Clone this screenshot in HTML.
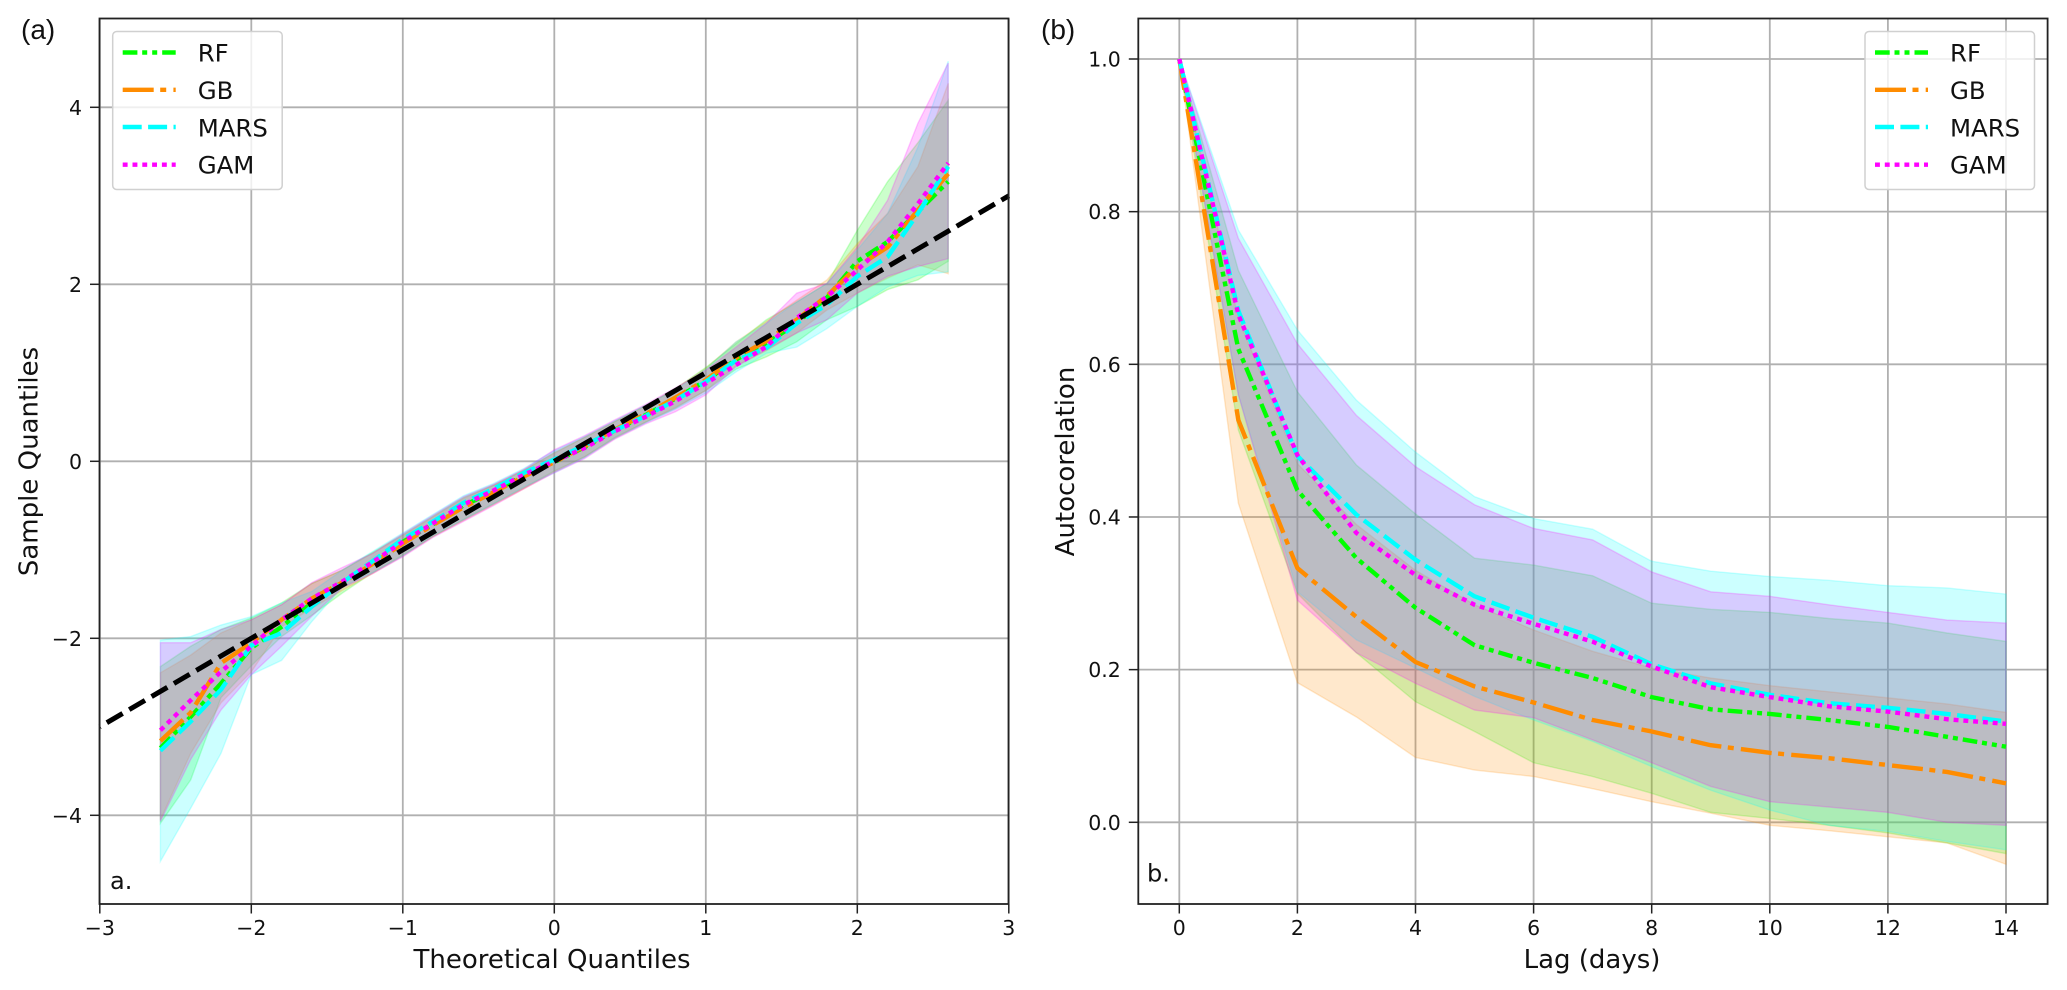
<!DOCTYPE html>
<html lang="en">
<head>
<meta charset="utf-8">
<title>QQ and autocorrelation panels</title>
<style>
html,body{margin:0;padding:0;background:#fff;}
svg{display:block;}
text{font-family:"DejaVu Sans","Liberation Sans",sans-serif;fill:#111;}
</style>
</head>
<body>
<svg id="fig" xmlns="http://www.w3.org/2000/svg" width="2067" height="990" viewBox="0 0 2067 990">
  <rect x="0" y="0" width="2067" height="990" fill="#fff"/>
  <text x="21" y="39" style="font-family:'Liberation Sans',sans-serif;font-size:28px">(a)</text>
  <text x="1041" y="39" style="font-family:'Liberation Sans',sans-serif;font-size:28px">(b)</text>
  <g id="panelA"></g>
  <g id="panelB"></g>
</svg>
<script>
// ---------- Panel (a): QQ plot data ----------
const qqTheoretical = [-2.6,-2.4,-2.2,-2,-1.8,-1.6,-1.4,-1.2,-1,-0.8,-0.6,-0.4,-0.2,0,0.2,0.4,0.6,0.8,1,1.2,1.4,1.6,1.8,2,2.2,2.4,2.6];
const qqRF   = [-3.24,-2.886,-2.51,-2.11,-1.87,-1.6,-1.37,-1.15,-0.91,-0.71,-0.5,-0.34,-0.16,-0.01,0.16,0.35,0.52,0.71,0.91,1.15,1.33,1.56,1.85,2.26,2.48,2.82,3.16];
const qqGB   = [-3.16,-2.84,-2.28,-2.05,-1.79,-1.55,-1.37,-1.16,-0.93,-0.72,-0.52,-0.35,-0.17,-0.01,0.17,0.36,0.53,0.72,0.92,1.17,1.36,1.6,1.87,2.2,2.42,2.84,3.25];
const qqMARS = [-3.27,-2.94,-2.58,-2.08,-1.94,-1.64,-1.37,-1.13,-0.88,-0.68,-0.47,-0.31,-0.13,0.02,0.18,0.35,0.51,0.69,0.9,1.14,1.28,1.56,1.77,2.09,2.31,2.8,3.33];
const qqGAM  = [-3.04,-2.7,-2.377,-2.09,-1.79,-1.55,-1.36,-1.14,-0.91,-0.7,-0.49,-0.33,-0.15,0,0.15,0.34,0.5,0.68,0.88,1.09,1.295,1.62,1.86,2.16,2.48,2.91,3.37];
const qqRFLow    = [-4.09,-3.6,-2.67,-2.31,-1.98,-1.74,-1.49,-1.26,-1.06,-0.85,-0.66,-0.48,-0.3,-0.11,0.05,0.27,0.44,0.6,0.8,1.04,1.18,1.35,1.6,1.75,1.94,2.05,2.26];
const qqRFHigh   = [-2.32,-2.09,-1.9,-1.77,-1.6,-1.38,-1.23,-1.03,-0.83,-0.62,-0.41,-0.27,-0.1,0.1,0.27,0.45,0.63,0.82,1.06,1.33,1.6,1.8,2.01,2.61,3.16,3.6,4.08];
const qqGBLow    = [-4.05,-3.3,-2.73,-2.38,-1.87,-1.66,-1.46,-1.27,-1.07,-0.85,-0.67,-0.49,-0.31,-0.12,0.05,0.26,0.44,0.61,0.8,1.08,1.25,1.45,1.71,1.9,2.07,2.22,2.12];
const qqGBHigh   = [-2.39,-2.19,-1.94,-1.79,-1.62,-1.38,-1.23,-1.04,-0.84,-0.63,-0.42,-0.27,-0.1,0.09,0.27,0.45,0.62,0.82,1.05,1.35,1.58,1.82,2.05,2.46,2.8,3.33,4.27];
const qqMARSLow  = [-4.52,-3.92,-3.3,-2.41,-2.25,-1.81,-1.42,-1.26,-1.07,-0.84,-0.66,-0.48,-0.29,-0.13,0.04,0.26,0.43,0.59,0.77,1.01,1.22,1.29,1.5,1.75,1.97,2.1,2.14];
const qqMARSHigh = [-2.02,-1.98,-1.85,-1.755,-1.6,-1.47,-1.23,-1.02,-0.81,-0.6,-0.39,-0.25,-0.08,0.12,0.28,0.46,0.63,0.81,1.04,1.35,1.56,1.8,2.01,2.39,2.8,3.55,4.52];
const qqGAMLow   = [-4.07,-3.37,-2.81,-2.41,-2.09,-1.75,-1.43,-1.27,-1.08,-0.86,-0.68,-0.5,-0.31,-0.13,0.03,0.25,0.42,0.56,0.75,1.07,1.26,1.45,1.6,1.9,2.09,2.2,2.29];
const qqGAMHigh  = [-2.05,-2.05,-1.9,-1.79,-1.62,-1.37,-1.2,-1.04,-0.82,-0.61,-0.4,-0.26,-0.09,0.13,0.29,0.47,0.64,0.83,1.03,1.29,1.56,1.9,2.01,2.42,2.95,3.82,4.5];
const qqRefX = [-3, 3];
const qqRefY = [-3, 3];
const qqXTickValues = [-3,-2,-1,0,1,2,3];
const qqXTickLabels = ["\u22123","\u22122","\u22121","0","1","2","3"];
const qqYTickValues = [-4,-2,0,2,4];
const qqYTickLabels = ["\u22124","\u22122","0","2","4"];

// ---------- Panel (b): autocorrelation data ----------
const lagDays = [0,1,2,3,4,5,6,7,8,9,10,11,12,13,14];
const acfRF   = [1,0.62,0.435,0.346,0.281,0.232,0.209,0.189,0.164,0.148,0.142,0.134,0.125,0.112,0.099];
const acfGB   = [1,0.527,0.333,0.269,0.21,0.178,0.157,0.134,0.119,0.101,0.091,0.084,0.075,0.066,0.051];
const acfMARS = [1,0.67,0.48,0.403,0.344,0.296,0.268,0.243,0.207,0.182,0.167,0.156,0.15,0.142,0.132];
const acfGAM  = [1,0.665,0.481,0.379,0.324,0.285,0.26,0.2366,0.204,0.177,0.164,0.152,0.145,0.135,0.129];
const acfRFLow    = [1,0.514,0.3,0.222,0.158,0.119,0.078,0.06,0.038,0.013,0.005,-0.004,-0.014,-0.027,-0.041];
const acfRFHigh   = [1,0.723,0.564,0.468,0.404,0.346,0.337,0.323,0.287,0.279,0.275,0.267,0.261,0.248,0.237];
const acfGBLow    = [1,0.418,0.183,0.138,0.085,0.0685,0.06,0.044,0.027,0.012,-0.004,-0.011,-0.019,-0.027,-0.055];
const acfGBHigh   = [1,0.66,0.47,0.39,0.33,0.285,0.252,0.224,0.202,0.189,0.179,0.171,0.163,0.155,0.144];
const acfMARSLow  = [1,0.56,0.302,0.239,0.202,0.165,0.134,0.106,0.073,0.042,0.016,-0.004,-0.012,-0.025,-0.036];
const acfMARSHigh = [1,0.776,0.645,0.553,0.485,0.4266,0.398,0.384,0.342,0.329,0.322,0.317,0.31,0.307,0.299];
const acfGAMLow   = [1,0.56,0.291,0.222,0.182,0.147,0.137,0.108,0.078,0.047,0.027,0.02,0.013,0,-0.004];
const acfGAMHigh  = [1,0.765,0.627,0.533,0.466,0.416,0.385,0.37,0.328,0.302,0.296,0.285,0.275,0.265,0.261];
const acfXTickValues = [0,2,4,6,8,10,12,14];
const acfXTickLabels = ["0","2","4","6","8","10","12","14"];
const acfYTickValues = [0,0.2,0.4,0.6,0.8,1];
const acfYTickLabels = ["0.0","0.2","0.4","0.6","0.8","1.0"];

const legendLabels = ["RF","GB","MARS","GAM"];

// ---------- Scales ----------
const NS = "http://www.w3.org/2000/svg";
const aBox = {l:99.5, r:1008.5, t:18.5, b:904};
const bBox = {l:1138.3, r:2047.6, t:18.5, b:904};
function qqX(v){ return 554.3 + 151.5 * v; }
function qqY(v){ return 461.3 - 88.5 * v; }
function acfX(v){ return 1179.3 + 59.05 * v; }
function acfY(v){ return 822.3 - 763.3 * v; }

const seriesColors = ["#00ff00","#ff8c00","#00ffff","#ff00ff"];
const seriesDashes = ["14.7 4.8 5 5 5 5","31 6.5 6 7.2","19 6.4","4.9 4.9"];

function make(tag, parent, attrs){
  const el = document.createElementNS(NS, tag);
  for (const k in attrs) el.setAttribute(k, attrs[k]);
  parent.appendChild(el);
  return el;
}
function linePoints(xs, ys, fx, fy){
  return xs.map((x,i)=> fx(x).toFixed(2)+","+fy(ys[i]).toFixed(2)).join(" ");
}
function bandPoints(xs, low, high, fx, fy){
  const up = xs.map((x,i)=> fx(x).toFixed(2)+","+fy(high[i]).toFixed(2));
  const dn = xs.map((x,i)=> fx(x).toFixed(2)+","+fy(low[i]).toFixed(2)).reverse();
  return up.concat(dn).join(" ");
}

function drawGrid(g, box, xVals, yVals, fx, fy, prefix){
  xVals.forEach(v=>{
    const l = make("line", g, {x1:fx(v), x2:fx(v), y1:box.t, y2:box.b, stroke:"#b0b0b0", "stroke-width":1.8});
    
    
  });
  yVals.forEach(v=>{
    const l = make("line", g, {x1:box.l, x2:box.r, y1:fy(v), y2:fy(v), stroke:"#b0b0b0", "stroke-width":1.8});
    
    
  });
}
function drawAxes(g, box, xVals, xLabels, yVals, yLabels, fx, fy, prefix){
  xVals.forEach((v,i)=>{
    const t = make("line", g, {x1:fx(v), x2:fx(v), y1:box.b, y2:box.b+9.5, stroke:"#222", "stroke-width":1.5});
    
    
    const s = make("text", g, {x:fx(v), y:box.b+31, "text-anchor":"middle", "font-size":"20.5px"});
    
    
    s.textContent = xLabels[i];
  });
  yVals.forEach((v,i)=>{
    const t = make("line", g, {x1:box.l-9.5, x2:box.l, y1:fy(v), y2:fy(v), stroke:"#222", "stroke-width":1.5});
    
    
    const s = make("text", g, {x:box.l-17.5, y:fy(v)+7.5, "text-anchor":"end", "font-size":"20.5px"});
    
    
    s.textContent = yLabels[i];
  });
  const f = make("rect", g, {x:box.l, y:box.t, width:box.r-box.l, height:box.b-box.t, fill:"none", stroke:"#222", "stroke-width":1.8});
  
  
}
function drawBands(g, xs, lows, highs, fx, fy, prefix){
  lows.forEach((low,i)=>{
    const p = make("polygon", g, {points:bandPoints(xs, low, highs[i], fx, fy), fill:seriesColors[i], "fill-opacity":0.2, stroke:seriesColors[i], "stroke-opacity":0.2, "stroke-width":1.4});
    
    
  });
}
function drawLines(g, xs, means, fx, fy, prefix){
  means.forEach((m,i)=>{
    const p = make("polyline", g, {points:linePoints(xs, m, fx, fy), fill:"none", stroke:seriesColors[i], "stroke-width":4.4, "stroke-dasharray":seriesDashes[i], "stroke-linejoin":"round"});
    
    
  });
}
function drawLegend(g, left, prefix){
  const box = make("rect", g, {x:left, y:31.5, width:169.5, height:158, rx:4, ry:4, fill:"#fff", "fill-opacity":0.8, stroke:"#d0d0d0", "stroke-width":1.5});
  
  
  const rows = [52.5, 89.8, 127, 164.7];
  const bases = [61.5, 99, 136.3, 173.7];
  legendLabels.forEach((lab,i)=>{
    const h = make("line", g, {x1:left+10, x2:left+63, y1:rows[i], y2:rows[i], stroke:seriesColors[i], "stroke-width":4.4, "stroke-dasharray":seriesDashes[i]});
    
    
    const t = make("text", g, {x:left+85, y:bases[i], "font-size":"24.4px"});
    
    
    t.textContent = lab;
  });
}

// ---------- Panel (a) ----------
const gA = document.getElementById("panelA");
drawGrid(gA, aBox, qqXTickValues, qqYTickValues, qqX, qqY, "qq");
drawBands(gA, qqTheoretical, [qqRFLow,qqGBLow,qqMARSLow,qqGAMLow], [qqRFHigh,qqGBHigh,qqMARSHigh,qqGAMHigh], qqX, qqY, "qq");
drawLines(gA, qqTheoretical, [qqRF,qqGB,qqMARS,qqGAM], qqX, qqY, "qq");
const refLine = make("polyline", gA, {points:linePoints(qqRefX, qqRefY, qqX, qqY), fill:"none", stroke:"#000", "stroke-width":5, "stroke-dasharray":"18.3 7.6", "stroke-dashoffset":"17.75"});


drawAxes(gA, aBox, qqXTickValues, qqXTickLabels, qqYTickValues, qqYTickLabels, qqX, qqY, "qq");
drawLegend(gA, 112.7, "qq");
const aXTitle = make("text", gA, {x:552, y:968, "text-anchor":"middle", "font-size":"26px"});


aXTitle.textContent = "Theoretical Quantiles";
const aYTitle = make("text", gA, {x:0, y:0, "text-anchor":"middle", "font-size":"26px", transform:"translate(37.5 461.5) rotate(-90)"});


aYTitle.textContent = "Sample Quantiles";
const aNote = make("text", gA, {x:110, y:889, "font-size":"24px"});


aNote.textContent = "a.";

// ---------- Panel (b) ----------
const gB = document.getElementById("panelB");
drawGrid(gB, bBox, acfXTickValues, acfYTickValues, acfX, acfY, "acf");
drawBands(gB, lagDays, [acfRFLow,acfGBLow,acfMARSLow,acfGAMLow], [acfRFHigh,acfGBHigh,acfMARSHigh,acfGAMHigh], acfX, acfY, "acf");
drawLines(gB, lagDays, [acfRF,acfGB,acfMARS,acfGAM], acfX, acfY, "acf");
drawAxes(gB, bBox, acfXTickValues, acfXTickLabels, acfYTickValues, acfYTickLabels, acfX, acfY, "acf");
drawLegend(gB, 1865, "acf");
const bXTitle = make("text", gB, {x:1592, y:968, "text-anchor":"middle", "font-size":"26px"});


bXTitle.textContent = "Lag (days)";
const bYTitle = make("text", gB, {x:0, y:0, "text-anchor":"middle", "font-size":"26px", transform:"translate(1074 461.5) rotate(-90)"});


bYTitle.textContent = "Autocorelation";
const bNote = make("text", gB, {x:1147, y:881.5, "font-size":"24px"});


bNote.textContent = "b.";
</script>
</body>
</html>
